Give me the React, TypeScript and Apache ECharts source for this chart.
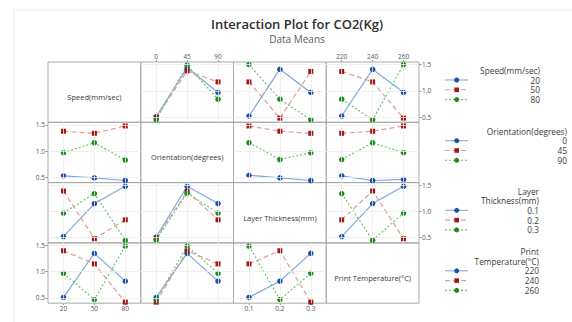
import { useEffect, useRef } from 'react';
import * as echarts from 'echarts';

// Factor levels
const speedLevels = ['20', '50', '80'];
const orientationLevels = ['0', '45', '90'];
const thicknessLevels = ['0.1', '0.2', '0.3'];
const temperatureLevels = ['220', '240', '260'];

const factorNames = ['Speed(mm/sec)', 'Orientation(degrees)', 'Layer Thickness(mm)', 'Print Temperature(°C)'];
const legendTitles = [['Speed(mm/sec)'], ['Orientation(degrees)'], ['Layer', 'Thickness(mm)'], ['Print', 'Temperature(°C)']];
const yTickValues = [0.5, 1.0, 1.5];

// Mean CO2(Kg): one row per level of the trace factor, one value per level of the x factor
const speedByOrientation = [[0.51, 1.44, 0.97], [0.49, 1.38, 1.17], [0.45, 1.49, 0.84]];
const speedByThickness = [[0.52, 1.41, 0.97], [1.17, 0.48, 1.37], [1.5, 0.84, 0.45]];
const speedByTemperature = [[0.52, 1.41, 0.97], [1.37, 1.17, 0.48], [0.84, 0.45, 1.5]];

const orientationBySpeed = [[0.53, 0.49, 0.44], [1.38, 1.34, 1.48], [0.97, 1.16, 0.83]];
const orientationByThickness = [[0.54, 0.49, 0.44], [1.48, 1.38, 1.34], [1.16, 0.84, 0.97]];
const orientationByTemperature = [[0.53, 0.44, 0.46], [1.34, 1.38, 1.48], [0.84, 1.16, 0.97]];

const thicknessBySpeed = [[0.52, 1.15, 1.48], [1.39, 0.48, 0.84], [0.97, 1.34, 0.45]];
const thicknessByOrientation = [[0.51, 1.48, 1.15], [0.49, 1.38, 0.84], [0.46, 1.35, 0.97]];
const thicknessByTemperature = [[0.52, 1.15, 1.48], [0.84, 1.39, 0.48], [1.34, 0.45, 0.97]];

const temperatureBySpeed = [[0.51, 1.35, 0.82], [1.4, 1.15, 0.42], [0.97, 0.47, 1.49]];
const temperatureByOrientation = [[0.51, 1.35, 0.82], [0.42, 1.4, 1.15], [0.47, 1.49, 0.97]];
const temperatureByThickness = [[0.51, 0.82, 1.35], [1.15, 1.4, 0.42], [1.49, 0.47, 0.97]];

const factorLevels = [speedLevels, orientationLevels, thicknessLevels, temperatureLevels];
const meansMatrix: (number[][] | null)[][] = [
  [null, speedByOrientation, speedByThickness, speedByTemperature],
  [orientationBySpeed, null, orientationByThickness, orientationByTemperature],
  [thicknessBySpeed, thicknessByOrientation, null, thicknessByTemperature],
  [temperatureBySpeed, temperatureByOrientation, temperatureByThickness, null],
];

// Appearance of the three trace levels
const traceStyles = [
  { marker: '#1c4fa6', line: '#7ea8e2', symbol: 'circle', size: 5.5, dash: 'solid' as any },
  { marker: '#a31616', line: '#e39a9a', symbol: 'rect', size: 5, dash: [5, 3] as any },
  { marker: '#1d8a1d', line: '#6cc46c', symbol: 'circle', size: 5.5, dash: [2, 2] as any },
];

const FONT = '"Open Sans", "Noto Sans", sans-serif';
const LEFT = 48;
const TOP = 62;
const CELL_W = 92.75;
const CELL_H = 60.3;
const Y_MIN = 0.4;
const Y_MAX = 1.55;

function buildOption() {
  const grid: any[] = [];
  const xAxis: any[] = [];
  const yAxis: any[] = [];
  const series: any[] = [];
  const graphic: any[] = [];

  for (let r = 0; r < 4; r++) {
    for (let c = 0; c < 4; c++) {
      const k = r * 4 + c;
      grid.push({
        left: LEFT + c * CELL_W,
        top: TOP + r * CELL_H,
        width: CELL_W,
        height: CELL_H,
        show: true,
        borderColor: '#a9a9a9',
        borderWidth: 1,
        backgroundColor: 'transparent',
      });
      const xTop = r === 0 && (c === 1 || c === 3);
      const xBottom = r === 3 && (c === 0 || c === 2);
      const yLeft = c === 0 && (r === 1 || r === 3);
      const yRight = c === 3 && (r === 0 || r === 2);
      xAxis.push({
        type: 'category',
        gridIndex: k,
        data: factorLevels[c],
        boundaryGap: true,
        position: xTop ? 'top' : 'bottom',
        axisLine: { show: false },
        axisTick: { show: xTop || xBottom, alignWithLabel: true, length: 2, lineStyle: { color: '#999' } },
        axisLabel: { show: xTop || xBottom, fontSize: 6.5, color: '#555', margin: 2, fontFamily: FONT },
        splitLine: { show: false },
      });
      yAxis.push({
        type: 'value',
        gridIndex: k,
        min: Y_MIN,
        max: Y_MAX,
        position: yRight ? 'right' : 'left',
        axisLine: { show: false },
        axisTick: { show: yLeft || yRight, customValues: yTickValues, length: 2.5, lineStyle: { color: '#999' } },
        axisLabel: {
          show: yLeft || yRight,
          customValues: yTickValues,
          formatter: (v: number) => v.toFixed(1),
          fontSize: 6.5,
          color: '#555',
          margin: 3,
          fontFamily: FONT,
        },
        splitLine: { show: false },
      });

      const means = meansMatrix[r][c];
      if (!means) {
        graphic.push({
          type: 'text',
          silent: true,
          style: {
            x: LEFT + c * CELL_W + CELL_W / 2,
            y: TOP + r * CELL_H + CELL_H / 2 + 5,
            text: factorNames[r],
            align: 'center',
            verticalAlign: 'middle',
            fill: '#3a3a3a',
            font: `7.5px ${FONT}`,
          },
        });
        continue;
      }

      // faint reference lines
      series.push({
        type: 'line',
        xAxisIndex: k,
        yAxisIndex: k,
        data: [],
        silent: true,
        z: 1,
        markLine: {
          silent: true,
          symbol: 'none',
          label: { show: false },
          lineStyle: { color: '#ececec', width: 0.8, type: 'solid' },
          data: [
            ...yTickValues.map((v) => ({ yAxis: v })),
            ...factorLevels[c].map((lv) => ({ xAxis: lv })),
          ],
        },
      });

      means.forEach((vals, li) => {
        const st = traceStyles[li];
        series.push({
          type: 'line',
          name: `${factorNames[r]} ${factorLevels[r][li]}`,
          xAxisIndex: k,
          yAxisIndex: k,
          data: vals,
          symbol: st.symbol,
          symbolSize: st.size,
          z: 3,
          itemStyle: { color: st.marker },
          lineStyle: { color: st.line, width: 1.2, type: st.dash },
        });
      });
    }
  }

  // legends, one per trace factor
  const legendBlocks = [
    { right: 540, titleY: [70], itemY: 80 },
    { right: 567, titleY: [131], itemY: 140.7 },
    { right: 539, titleY: [191, 200.7], itemY: 210.3 },
    { right: 539, titleY: [251.7, 261.3], itemY: 270.8 },
  ];
  legendBlocks.forEach((b, fi) => {
    legendTitles[fi].forEach((t, ti) => {
      graphic.push({
        type: 'text',
        silent: true,
        style: { x: b.right, y: b.titleY[ti], text: t, align: 'right', verticalAlign: 'middle', fill: '#3a3a3a', font: `8.3px ${FONT}` },
      });
    });
    factorLevels[fi].forEach((lv, li) => {
      const y = b.itemY + li * 9.8;
      const st = traceStyles[li];
      graphic.push({
        type: 'line',
        silent: true,
        shape: { x1: 445, y1: y, x2: 468, y2: y },
        style: { stroke: st.line, lineWidth: 1.1, lineDash: st.dash === 'solid' ? null : st.dash },
      });
      if (st.symbol === 'rect') {
        graphic.push({
          type: 'rect',
          silent: true,
          shape: { x: 456.7 - 2.3, y: y - 2.3, width: 4.6, height: 4.6 },
          style: { fill: st.marker },
        });
      } else {
        graphic.push({
          type: 'circle',
          silent: true,
          shape: { cx: 456.7, cy: y, r: 2.5 },
          style: { fill: st.marker },
        });
      }
      graphic.push({
        type: 'text',
        silent: true,
        style: { x: b.right, y, text: lv, align: 'right', verticalAlign: 'middle', fill: '#3a3a3a', font: `8.3px ${FONT}` },
      });
    });
  });

  // page frame and titles
  graphic.push(
    { type: 'line', silent: true, shape: { x1: 14, y1: 10, x2: 572, y2: 10 }, style: { stroke: '#ececec', lineWidth: 1 } },
    { type: 'line', silent: true, shape: { x1: 14, y1: 10, x2: 14, y2: 322 }, style: { stroke: '#ececec', lineWidth: 1 } },
    {
      type: 'text',
      silent: true,
      style: {
        x: 297, y: 24, text: 'Interaction Plot for CO2(Kg)', align: 'center', verticalAlign: 'middle',
        fill: '#2e2e2e', font: `600 13px ${FONT}`,
      },
    },
    {
      type: 'text',
      silent: true,
      style: { x: 297, y: 39, text: 'Data Means', align: 'center', verticalAlign: 'middle', fill: '#5a5a5a', font: `10px ${FONT}` },
    },
  );

  return {
    animation: false,
    backgroundColor: '#ffffff',
    grid,
    xAxis,
    yAxis,
    series,
    graphic,
  };
}

export default function App() {
  const ref = useRef<HTMLDivElement>(null);
  useEffect(() => {
    if (!ref.current) return;
    const chart = echarts.init(ref.current, undefined, { renderer: 'svg' });
    chart.setOption(buildOption() as any);
    return () => chart.dispose();
  }, []);
  return <div ref={ref} style={{ position: 'fixed', left: 0, top: 0, width: 572, height: 322 }} />;
}
